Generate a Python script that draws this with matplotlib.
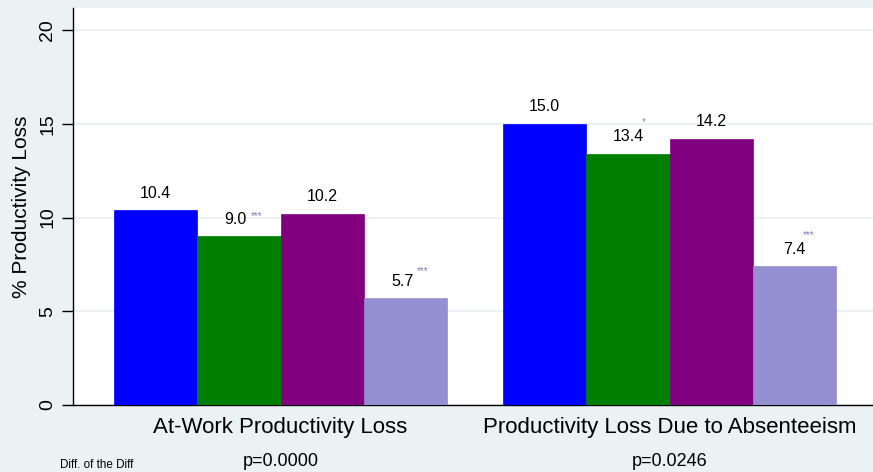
import matplotlib
matplotlib.use("Agg")
import matplotlib.pyplot as plt
import numpy as np

plt.rcParams['font.family'] = ['Liberation Sans', 'DejaVu Sans']

categories = ["At-Work Productivity Loss", "Productivity Loss Due to Absenteeism"]
p_values = ["p=0.0000", "p=0.0246"]
series_colors = ["#0000FF", "#007F00", "#800080", "#938FD1"]
values = [
    [10.4, 15.0],   # blue
    [9.0, 13.4],    # green
    [10.2, 14.2],   # purple
    [5.7, 7.4],     # lavender
]
stars = [
    ["", ""],
    ["***", "*"],
    ["", ""],
    ["***", "***"],
]
yticks = [0, 5, 10, 15, 20]
footnote = "Diff. of the Diff"

BG = "#EAF2F3"
W, H = 873, 472
fig = plt.figure(figsize=(W / 100, H / 100), dpi=100, facecolor=BG)
ax = fig.add_axes([73 / W, (H - 405) / H, 1 - 73 / W, (405 - 8) / H])
ax.set_facecolor("white")

group_gap = 4.67
bw = 1.0
star_offsets = {(1, 0): (12, 20), (3, 0): (11, 27), (1, 1): (14, 32), (3, 1): (8, 31)}
label_dx = {(1, 0): -3, (3, 0): -3}
for j, (col, vals) in enumerate(zip(series_colors, values)):
    for i, v in enumerate(vals):
        x = i * group_gap + j
        ax.bar(x, v, width=bw, color=col, edgecolor=col, linewidth=0.5, zorder=3)
        ax.annotate(f"{v:.1f}", (x, v), xytext=(label_dx.get((j, i), 0), 17),
                    textcoords="offset pixels", ha="center", va="center",
                    fontsize=11.5, color="black", zorder=4)
        s = stars[j][i]
        if s:
            dx, dy = star_offsets[(j, i)]
            ax.annotate(s, (x, v), xytext=(dx, dy), textcoords="offset pixels",
                        ha="left", va="center", fontsize=7, color="#8A78B8", zorder=4)

ax.set_xlim(-0.99, 8.61)
ax.set_ylim(0, (405 - 8) / 18.75)
ax.set_yticks(yticks)
ax.set_yticklabels([str(t) for t in yticks], rotation=90, va="center", fontsize=14)
ax.tick_params(axis="y", direction="out", length=8, width=1, color="black", pad=4)
ax.tick_params(axis="x", length=0)
ax.set_xticks([])
ax.yaxis.grid(True, color=BG, linewidth=1.5, zorder=0)
ax.set_axisbelow(True)
for sp in ["top", "right"]:
    ax.spines[sp].set_visible(False)
ax.spines["left"].set_color("black")
ax.spines["bottom"].set_color("black")
ax.spines["left"].set_linewidth(1)
ax.spines["bottom"].set_linewidth(1)
ax.set_ylabel("% Productivity Loss", fontsize=15, labelpad=6)

centers = [i * group_gap + 1.5 for i in range(len(categories))]
for c, cat, p in zip(centers, categories, p_values):
    xf = ax.transData.transform((c, 0))[0] / W
    fig.text(xf, 1 - 427 / H, cat, ha="center", va="center", fontsize=16)
    fig.text(xf, 1 - 462 / H, p, ha="center", va="center", fontsize=13)

fig.text(60 / W, 1 - 465 / H, footnote, ha="left", va="center", fontsize=8.4)

fig.savefig("out.png", dpi=100, facecolor=BG)
